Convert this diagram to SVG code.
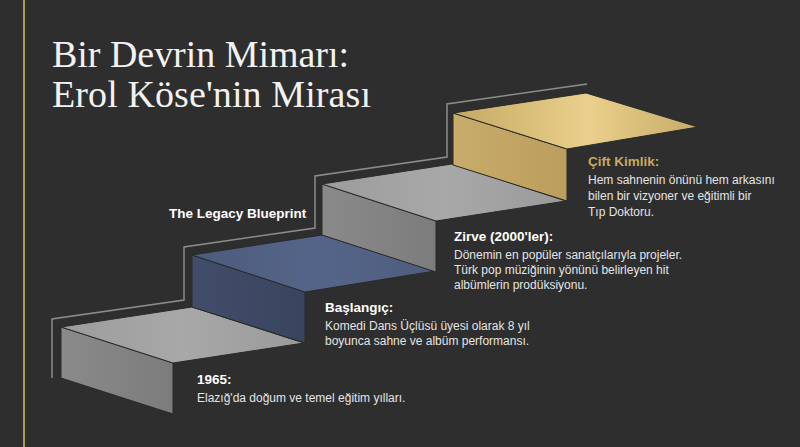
<svg xmlns="http://www.w3.org/2000/svg" width="800" height="447" viewBox="0 0 800 447">
<defs>
<linearGradient id="gGrayTop" x1="0" y1="0" x2="1" y2="0"><stop offset="0" stop-color="#9c9c9c"/><stop offset="0.5" stop-color="#a8a8a8"/><stop offset="1" stop-color="#9a9a9a"/></linearGradient>
<linearGradient id="gGrayFront" x1="0" y1="0" x2="1" y2="0"><stop offset="0" stop-color="#8a8a8a"/><stop offset="1" stop-color="#7c7c7c"/></linearGradient>
<linearGradient id="gBlueTop" x1="0" y1="0" x2="1" y2="0"><stop offset="0" stop-color="#4c5b7a"/><stop offset="0.5" stop-color="#55658a"/><stop offset="1" stop-color="#4e5d7d"/></linearGradient>
<linearGradient id="gBlueFront" x1="0" y1="0" x2="1" y2="0"><stop offset="0" stop-color="#414d6a"/><stop offset="1" stop-color="#39445e"/></linearGradient>
<linearGradient id="gGoldTop" x1="0" y1="0" x2="1" y2="0"><stop offset="0" stop-color="#c4a964"/><stop offset="0.55" stop-color="#ead08c"/><stop offset="1" stop-color="#c7ab68"/></linearGradient>
<linearGradient id="gGoldFront" x1="0" y1="0" x2="1" y2="0"><stop offset="0" stop-color="#c8ac6a"/><stop offset="1" stop-color="#bb9e5d"/></linearGradient>
</defs>
<style>
.face{stroke:#2a2a2a;stroke-width:1;stroke-linejoin:round}
.title{font-family:"Liberation Serif","DejaVu Serif",serif;font-size:38px;fill:#f2f2f2}
.h{font-family:"Liberation Sans",Arial,sans-serif;font-size:13.5px;font-weight:bold;fill:#ffffff}
.hg{font-family:"Liberation Sans",Arial,sans-serif;font-size:13.5px;font-weight:bold;fill:#c9a95e}
.b{font-family:"Liberation Sans",Arial,sans-serif;font-size:12px;fill:#e4e4e4}
.outline{fill:none;stroke:#8c8c8c;stroke-width:1.5}
</style>
<rect x="0" y="0" width="800" height="447" fill="#2e2e2e"/>
<line x1="24" y1="0" x2="24" y2="447" stroke="#a89a66" stroke-width="2"/>
<g id="title">
<text class="title" x="52" y="67" textLength="297">Bir Devrin Mimarı:</text>
<text class="title" x="52" y="107" textLength="319">Erol Köse'nin Mirası</text>
</g>
<g id="connectors">
<polyline class="outline" points="52,378 52,319 184,300 184,247 315,228 315,176 447,157 447,104 587,84"/>
</g>
<g id="legacy-label">
<text class="h" x="169" y="218">The Legacy Blueprint</text>
</g>
<g id="step-1965">
<polygon class="face" fill="url(#gGrayFront)" points="61,327 173,363 173,414 61,378"/>
<polygon class="face" fill="url(#gGrayTop)" points="61,327 173,363 304,343 192,307"/>
<text class="h" x="197" y="384">1965:</text>
<text class="b" x="197" y="402">Elazığ'da doğum ve temel eğitim yılları.</text>
</g>
<g id="step-baslangic">
<polygon class="face" fill="url(#gBlueFront)" points="192,255 305,292 305,343 192,307"/>
<polygon class="face" fill="url(#gBlueTop)" points="192,255 305,292 435,271 322,235"/>
<text class="h" x="325" y="312">Başlangıç:</text>
<text class="b" x="325" y="330">Komedi Dans Üçlüsü üyesi olarak 8 yıl</text>
<text class="b" x="325" y="345">boyunca sahne ve albüm performansı.</text>
</g>
<g id="step-zirve">
<polygon class="face" fill="url(#gGrayFront)" points="322,184 436,221 436,272 322,235"/>
<polygon class="face" fill="url(#gGrayTop)" points="322,184 436,221 566,201 452,164"/>
<text class="h" x="454" y="241">Zirve (2000'ler):</text>
<text class="b" x="454" y="259">Dönemin en popüler sanatçılarıyla projeler.</text>
<text class="b" x="454" y="274">Türk pop müziğinin yönünü belirleyen hit</text>
<text class="b" x="454" y="289">albümlerin prodüksiyonu.</text>
</g>
<g id="step-cift-kimlik">
<polygon class="face" fill="url(#gGoldFront)" points="453,113 567,149 567,201 453,165"/>
<polygon class="face" fill="url(#gGoldTop)" points="453,113 567,149 698,127 586,93"/>
<text class="hg" x="588" y="166">Çift Kimlik:</text>
<text class="b" x="588" y="184">Hem sahnenin önünü hem arkasını</text>
<text class="b" x="588" y="200">bilen bir vizyoner ve eğitimli bir</text>
<text class="b" x="588" y="216">Tıp Doktoru.</text>
</g>
</svg>
